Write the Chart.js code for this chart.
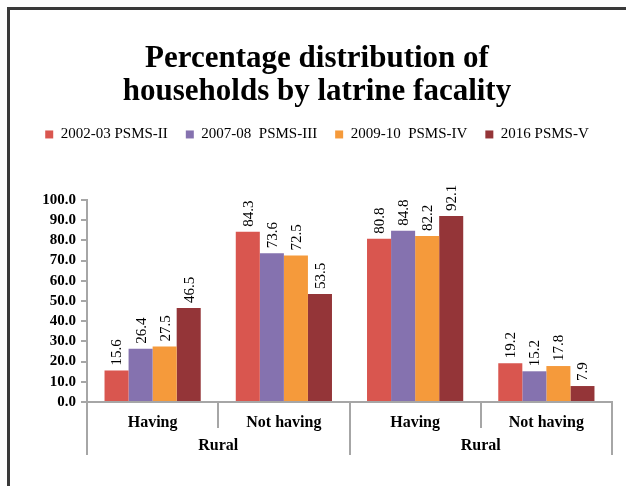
<!DOCTYPE html>
<html>
<head>
<meta charset="utf-8">
<script src="https://cdn.jsdelivr.net/npm/chart.js@4"></script>
<style>
  html, body { margin: 0; padding: 0; background: #fff; overflow: hidden; }
  #wrap { position: relative; width: 626px; height: 486px; }
  #frame { position: absolute; left: 7px; top: 7px; width: 700px; height: 600px;
           border-left: 3px solid #3a3a3a; border-top: 3px solid #3a3a3a; }
  #box { position: absolute; left: 0; top: 0; width: 626px; height: 486px; }
</style>
</head>
<body>
<div id="wrap">
  <div id="frame"></div>
  <div id="box"><canvas id="myChart"></canvas></div>
</div>
<script>
// categories and group labels
const categories = ['Having', 'Not having', 'Having', 'Not having']
const groups = ['Rural', 'Rural']
const seriesNames = ['2002-03 PSMS-II', '2007-08  PSMS-III', '2009-10  PSMS-IV', '2016 PSMS-V']

// values per survey round
const psms2 = [15.6, 84.3, 80.8, 19.2]
const psms3 = [26.4, 73.6, 84.8, 15.2]
const psms4 = [27.5, 72.5, 82.2, 17.8]
const psms5 = [46.5, 53.5, 92.1, 7.9]

const colors = ['#D9564F', '#8572AF', '#F59A3B', '#943538']
const axisGray = '#A6A6A6'
const serif = "'Liberation Serif', 'DejaVu Serif', serif"

// rotated value labels above each bar
const barLabels = {
    id: 'barLabels',
    afterDatasetsDraw(chart) {
        const ctx = chart.ctx
        ctx.save()
        ctx.fillStyle = '#000'
        ctx.font = '15px ' + serif
        ctx.textAlign = 'left'
        ctx.textBaseline = 'middle'
        chart.data.datasets.forEach((ds, i) => {
            chart.getDatasetMeta(i).data.forEach((bar, j) => {
                ctx.save()
                ctx.translate(bar.x, bar.y - 5)
                ctx.rotate(-Math.PI / 2)
                ctx.fillText(ds.data[j].toFixed(1), 0, 1)
                ctx.restore()
            })
        })
        ctx.restore()
    }
}

// second level of the category axis: separators + group names
const groupAxis = {
    id: 'groupAxis',
    afterDraw(chart) {
        const ctx = chart.ctx
        const x = chart.scales.x
        const step = (x.right - x.left) / categories.length
        const base = x.top
        ctx.save()
        ctx.strokeStyle = axisGray
        ctx.lineWidth = 2
        for (let i = 0; i <= categories.length; i++) {
            const px = Math.round(x.left + i * step)
            const long = i % 2 === 0
            ctx.beginPath()
            ctx.moveTo(px, base)
            ctx.lineTo(px, base + (long ? 53 : 26))
            ctx.stroke()
        }
        ctx.fillStyle = '#000'
        ctx.font = 'bold 16px ' + serif
        ctx.textAlign = 'center'
        ctx.textBaseline = 'middle'
        groups.forEach((g, k) => {
            ctx.fillText(g, x.left + (2 * k + 1) * step, base + 44)
        })
        ctx.restore()
    }
}

const data = {
    labels: categories,
    datasets: [psms2, psms3, psms4, psms5].map((vals, i) => ({
        label: seriesNames[i],
        data: vals,
        backgroundColor: colors[i],
        borderWidth: 0,
        categoryPercentage: 0.733,
        barPercentage: 1.0
    }))
}

new Chart(document.getElementById('myChart'), {
    type: 'bar',
    data: data,
    plugins: [barLabels, groupAxis],
    options: {
        responsive: true,
        maintainAspectRatio: false,
        animation: false,
        layout: { padding: { left: 22, right: 14, top: 0, bottom: 0 } },
        plugins: {
            title: {
                display: true,
                text: ['Percentage distribution of', 'households by latrine facality'],
                color: '#000',
                font: { family: serif, size: 31, weight: 'bold', lineHeight: 1.08 },
                padding: { top: 42, bottom: 0 }
            },
            legend: {
                display: true,
                labels: {
                    color: '#000',
                    font: { family: serif, size: 15 },
                    boxWidth: 8,
                    boxHeight: 8,
                    padding: 18
                }
            },
            tooltip: { enabled: false }
        },
        scales: {
            x: {
                grid: { display: false },
                border: { display: true, color: axisGray, width: 2 },
                ticks: {
                    color: '#000',
                    font: { family: serif, size: 16, weight: 'bold' },
                    padding: 3,
                    maxRotation: 0
                },
                afterFit(scale) { scale.height = 84 }
            },
            // spacer between legend and plot, keeps room for the value labels
            xTop: {
                type: 'category',
                position: 'top',
                labels: [''],
                grid: { display: false },
                border: { display: false },
                ticks: { display: false },
                afterFit(scale) { scale.height = 48 }
            },
            y: {
                min: 0,
                max: 100,
                ticks: {
                    stepSize: 10,
                    autoSkip: false,
                    color: '#000',
                    font: { family: serif, size: 15, weight: 'bold' },
                    padding: 5,
                    callback: v => v.toFixed(1)
                },
                grid: {
                    drawOnChartArea: false,
                    drawTicks: true,
                    tickLength: 6,
                    color: axisGray,
                    lineWidth: 2
                },
                border: { display: true, color: axisGray, width: 2 },
                afterFit(scale) { scale.width = 65 }
            }
        }
    }
})
</script>
</body>
</html>
